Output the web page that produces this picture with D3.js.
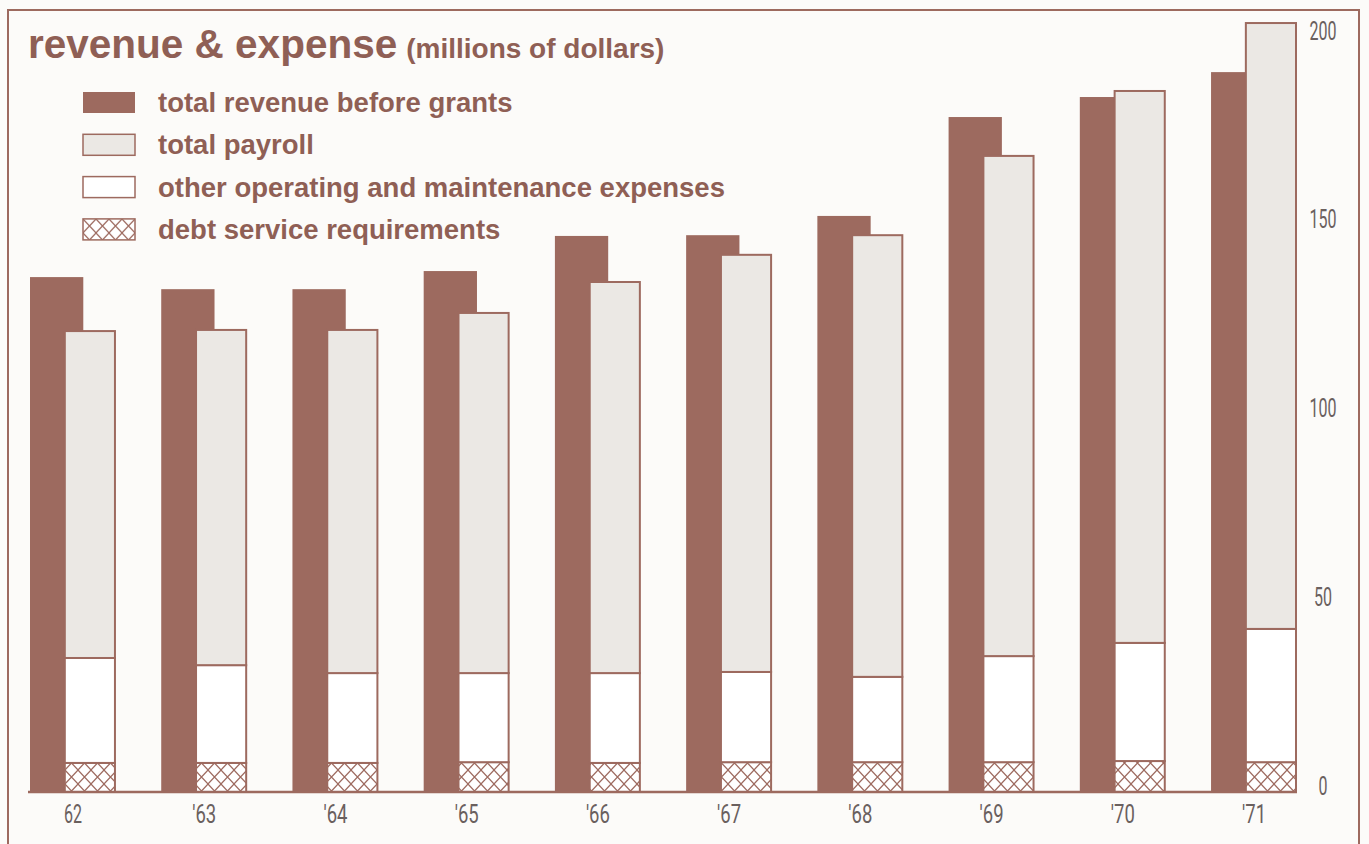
<!DOCTYPE html>
<html>
<head>
<meta charset="utf-8">
<script src="https://d3js.org/d3.v7.min.js"></script>
<style>
  body { margin: 0; background: #fcfbf9; }
  svg { display: block; }
  .title { font-family: "Liberation Sans", Arial, sans-serif; font-weight: bold; fill: #8f5f55; }
  .legend text { font-family: "Liberation Sans", Arial, sans-serif; font-weight: bold; font-size: 27.5px; fill: #8f5f55; }
  .axis text { font-family: "Roboto", "DejaVu Sans Condensed", sans-serif; font-weight: 400; font-size: 25px; fill: #6a605e; }
</style>
</head>
<body>
<svg width="1369" height="844"></svg>
<script>
var years = ["62", "'63", "'64", "'65", "'66", "'67", "'68", "'69", "'70", "'71"];
var revenue = [136.4, 133.2, 133.2, 138.0, 147.3, 147.5, 152.6, 178.8, 184.1, 190.7];
var debt    = [7.7, 7.7, 7.7, 7.9, 7.7, 7.9, 7.9, 7.9, 8.2, 7.9];
var other   = [27.8, 25.9, 23.8, 23.6, 23.8, 23.9, 22.6, 28.1, 31.3, 35.3];
var payroll = [86.6, 88.8, 90.9, 95.4, 103.6, 110.5, 117.0, 132.5, 146.2, 160.5];
var yTicks  = [0, 50, 100, 150, 200];
var legendLabels = ["total revenue before grants", "total payroll",
                    "other operating and maintenance expenses", "debt service requirements"];

var brown = "#9d6a5f", light = "#ebe8e4";

var svg = d3.select("svg");

var defs = svg.append("defs");
var pat = defs.append("pattern")
    .attr("id", "hatch")
    .attr("patternUnits", "userSpaceOnUse")
    .attr("width", 13).attr("height", 14);
pat.append("rect").attr("width", 13).attr("height", 14).attr("fill", "#fff");
pat.append("path").attr("d", "M0,0L13,14M13,0L0,14")
    .attr("stroke", brown).attr("stroke-width", 1.2);

// frame
svg.append("path")
    .attr("d", "M8,844V10H1359V844")
    .attr("fill", "none").attr("stroke", brown).attr("stroke-width", 2);

var x = d3.scaleBand().domain(years).range([30, 1297]).paddingInner(0.345).paddingOuter(0);
var y = d3.scaleLinear().domain([0, 200]).range([792, 37]);

var bw = x.bandwidth();
var revW = bw * 0.62, expX = bw * 0.405, expW = bw - expX;

var data = years.map(function(d, i) {
    return {year: d, revenue: revenue[i], debt: debt[i], other: other[i], payroll: payroll[i]};
});

// revenue bars
svg.append("g").selectAll("rect").data(data).enter().append("rect")
    .attr("x", function(d) { return x(d.year); })
    .attr("y", function(d) { return y(d.revenue); })
    .attr("width", revW)
    .attr("height", function(d) { return y(0) - y(d.revenue); })
    .attr("fill", brown);

// expense stacks
var stack = d3.stack().keys(["debt", "other", "payroll"])(data);
var fills = {debt: "url(#hatch)", other: "#ffffff", payroll: light};

svg.append("g").selectAll("g").data(stack).enter().append("g")
    .attr("fill", function(s) { return fills[s.key]; })
    .selectAll("rect").data(function(s) { return s; }).enter().append("rect")
    .attr("x", function(d) { return x(d.data.year) + expX; })
    .attr("y", function(d) { return y(d[1]); })
    .attr("width", expW - 1)
    .attr("height", function(d) { return y(d[0]) - y(d[1]); })
    .attr("stroke", brown).attr("stroke-width", 2);

// baseline
svg.append("line")
    .attr("x1", 28).attr("x2", 1297)
    .attr("y1", y(0)).attr("y2", y(0))
    .attr("stroke", brown).attr("stroke-width", 2.5);

// condensed look for the axis numerals
function squeeze(t) {
    return t.replace(/'/g, "").length * 9 + (t.indexOf("'") >= 0 ? 6 : 0);
}

// x axis labels
svg.append("g").attr("class", "axis")
    .attr("transform", "translate(0," + y(0) + ")")
    .call(d3.axisBottom(x).tickSize(0).tickPadding(10))
    .call(function(g) { g.select(".domain").remove(); })
    .selectAll("text").attr("dy", "0.85em")
    .attr("textLength", function(d) { return squeeze(d); })
    .attr("lengthAdjust", "spacingAndGlyphs");

// y axis labels
svg.append("g").attr("class", "axis")
    .attr("transform", "translate(1306,0)")
    .call(d3.axisRight(y).tickValues(yTicks).tickSize(0).tickPadding(4))
    .call(function(g) { g.select(".domain").remove(); })
    .selectAll("text").attr("dy", "0.36em").attr("y", -7)
    .attr("x", 17).attr("text-anchor", "middle")
    .attr("textLength", function(d) { return squeeze(String(d)); })
    .attr("lengthAdjust", "spacingAndGlyphs");

// title
var title = svg.append("text").attr("class", "title").attr("x", 28).attr("y", 58);
title.append("tspan").attr("font-size", 40.5).text("revenue & expense");
title.append("tspan").attr("font-size", 28).attr("dx", 9).text("(millions of dollars)");

// legend
var legFills = [brown, light, "#ffffff", "url(#hatch)"];
var leg = svg.append("g").attr("class", "legend")
    .selectAll("g").data(legendLabels).enter().append("g")
    .attr("transform", function(d, i) { return "translate(83," + (92 + i * 42.3) + ")"; });
leg.append("rect")
    .attr("width", 52).attr("height", 21)
    .attr("fill", function(d, i) { return legFills[i]; })
    .attr("stroke", function(d, i) { return i ? brown : "none"; })
    .attr("stroke-width", 1.5);
leg.append("text").attr("x", 75).attr("y", 20).text(function(d) { return d; });
</script>
</body>
</html>
